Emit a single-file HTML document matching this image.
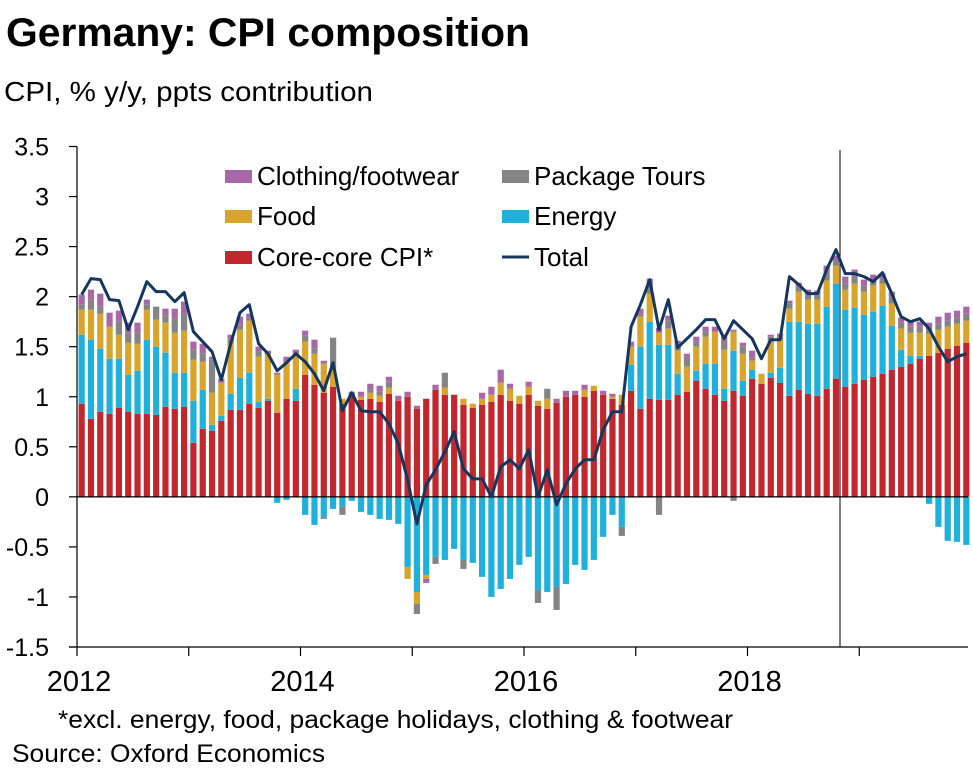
<!DOCTYPE html>
<html><head><meta charset="utf-8"><style>
html,body{margin:0;padding:0;background:#fff;}
body{width:973px;height:775px;overflow:hidden;font-family:"Liberation Sans",Arial,sans-serif;}
svg text{font-family:"Liberation Sans",Arial,sans-serif;}
</style></head><body>
<svg id="chart" width="973" height="775" xmlns="http://www.w3.org/2000/svg">
<text x="6" y="46" font-size="40" font-weight="bold" fill="#000" textLength="524" lengthAdjust="spacingAndGlyphs">Germany: CPI composition</text>
<text x="4" y="101" font-size="28" fill="#000" textLength="369" lengthAdjust="spacingAndGlyphs">CPI, % y/y, ppts contribution</text>
<g id="plot"></g>
<g id="legend"></g>
<text x="58" y="728" font-size="25" fill="#000" textLength="675" lengthAdjust="spacingAndGlyphs">*excl. energy, food, package holidays, clothing &amp; footwear</text>
<text x="12" y="762" font-size="25" fill="#000" textLength="313" lengthAdjust="spacingAndGlyphs">Source: Oxford Economics</text>
</svg>
<script>
const core=[0.93,0.78,0.85,0.83,0.89,0.85,0.83,0.83,0.82,0.90,0.88,0.90,
0.54,0.68,0.66,0.76,0.87,0.87,0.93,0.89,0.96,0.84,0.98,0.96,
1.22,1.12,1.04,1.10,0.93,1.00,0.97,0.98,0.95,1.03,0.96,1.00,
0.88,0.98,1.07,1.02,1.02,0.92,0.89,0.92,0.95,1.02,0.96,0.93,
1.02,0.91,0.88,0.94,1.00,1.02,1.00,1.06,1.02,0.98,0.92,1.06,
0.88,0.98,0.97,0.97,1.02,1.05,1.16,1.08,1.02,0.96,1.06,1.01,
1.18,1.13,1.19,1.14,1.01,1.07,1.03,1.01,1.08,1.18,1.10,1.13,
1.17,1.20,1.23,1.27,1.30,1.33,1.38,1.41,1.44,1.48,1.51,1.54];
const energy=[0.69,0.79,0.63,0.55,0.49,0.37,0.43,0.74,0.68,0.54,0.36,0.34,
0.42,0.39,0.06,0.05,0.16,0.32,0.31,0.06,0.02,-0.06,-0.03,0.12,
-0.18,-0.28,-0.2,-0.12,-0.1,-0.04,-0.15,-0.18,-0.22,-0.23,-0.27,-0.7,
-0.95,-0.78,-0.6,-0.63,-0.52,-0.63,-0.66,-0.8,-1.0,-0.92,-0.82,-0.68,
-0.6,-0.93,-0.95,-0.9,-0.87,-0.68,-0.73,-0.63,-0.4,-0.18,-0.3,0.26,
0.62,0.77,0.55,0.55,0.21,0.0,0.10,0.25,0.31,0.12,0.40,0.15,
0.09,0.0,0.05,0.15,0.74,0.68,0.70,0.72,0.82,0.95,0.77,0.76,
0.65,0.65,0.68,0.44,0.17,0.08,0.03,-0.07,-0.3,-0.44,-0.45,-0.48];
const food=[0.25,0.30,0.35,0.32,0.24,0.32,0.27,0.30,0.27,0.30,0.40,0.42,
0.41,0.28,0.32,0.33,0.50,0.48,0.52,0.45,0.45,0.38,0.36,0.35,
0.33,0.31,0.29,0.2,0.05,0.0,0.03,0.06,0.06,0.06,0.0,-0.12,
-0.12,-0.04,0,0.07,0.0,0.06,0.04,0.06,0.07,0.12,0.12,0.08,
0.08,0.05,0.1,0.0,0.0,0.0,0.07,0.05,0.0,0.02,0.1,0.18,
0.3,0.28,0.12,0.16,0.23,0.25,0.24,0.27,0.32,0.39,0.19,0.27,
0.09,0.1,0.31,0.28,0.13,0.30,0.24,0.24,0.26,0.18,0.20,0.24,
0.23,0.26,0.22,0.22,0.21,0.23,0.23,0.22,0.23,0.22,0.22,0.22];
const tours=[0.05,0.1,0.07,0.0,0.13,0.1,0.11,0.05,0.13,0.07,0.14,0.17,
0.1,0.08,0.33,0.0,0.05,0.05,0.03,0.05,0.0,0.0,0.0,0.0,
0.06,0.05,-0.02,0.29,-0.08,0.05,0.0,0.03,0.04,0.06,0.0,0.0,
-0.1,0.0,-0.07,0.15,0.0,-0.09,0.0,0.0,0.0,0.0,0.0,0.0,
0.0,-0.13,0.1,-0.23,0.0,0.0,0.0,0.0,0.0,0.0,-0.09,0.0,
0.03,0.05,-0.18,0.08,0.07,0.1,0.05,0.05,0.0,0.1,-0.04,0.07,
0.03,0.0,0.05,0.03,0.05,0.05,0.05,0.04,0.1,0.05,0.06,0.07,
0.06,0.06,0.05,0.07,0.06,0.06,0.06,0.06,0.06,0.06,0.06,0.07];
const clothing=[0.1,0.1,0.13,0.14,0.11,0.1,0.1,0.05,0.0,0.07,0.1,0.12,
0.08,0.1,0.03,0.04,0.04,0.08,0.04,0.05,0.03,0.02,0.06,0.04,
0.05,0.09,0.03,0.0,0.0,0.0,0.05,0.06,0.06,0.05,0.05,0.05,
0.03,-0.04,0.05,0.0,0.0,0.0,0.0,0.06,0.08,0.13,0.05,0.0,
0.05,0.0,0.0,0.04,0.06,0.04,0.05,0.0,0.04,0.03,0.0,0.05,
0.05,0.1,0.05,0.05,0.03,0.03,0.05,0.05,0.05,0.03,0.02,0.04,
0.07,0.0,0.02,0.03,0.03,0.04,0.05,0.05,0.05,0.05,0.07,0.07,
0.06,0.05,0.05,0.05,0.05,0.05,0.05,0.05,0.07,0.08,0.07,0.07];
const total=[2.02,2.18,2.17,1.97,1.96,1.67,1.9,2.15,2.05,2.05,1.95,2.04,
1.65,1.55,1.45,1.17,1.53,1.84,1.92,1.53,1.43,1.26,1.34,1.43,
1.35,1.23,1.06,1.34,0.86,1.04,0.86,0.85,0.85,0.73,0.53,0.17,
-0.27,0.12,0.27,0.45,0.65,0.28,0.18,0.18,0.0,0.3,0.37,0.28,
0.47,0.0,0.27,-0.08,0.13,0.28,0.37,0.37,0.67,0.85,0.85,1.7,
1.92,2.17,1.67,1.97,1.49,1.58,1.67,1.77,1.77,1.58,1.76,1.67,
1.58,1.38,1.57,1.57,2.2,2.12,2.03,2.03,2.27,2.47,2.23,2.23,
2.2,2.15,2.24,2.03,1.8,1.75,1.78,1.68,1.5,1.35,1.4,1.43];
const yTicks=[3.5,3,2.5,2,1.5,1,0.5,0,-0.5,-1,-1.5];
const yearLabels=["2012","2014","2016","2018"];
const startYear=2012, nYears=8;

const NS="http://www.w3.org/2000/svg";
const X0=77,X1=971,Y0=146.5,Y1=647;
const yMin=-1.5,yMax=3.5;
const y=v=>Y1-(v-yMin)/(yMax-yMin)*(Y1-Y0);
const nM=nYears*12, mw=(X1-X0)/nM;
const xm=i=>X0+mw*(i+0.5);
const xYear=yr=>X0+(yr-startYear)*12*mw;
function mk(tag,attrs,parent){const e=document.createElementNS(NS,tag);for(const k in attrs)e.setAttribute(k,attrs[k]);parent.appendChild(e);return e;}
const plot=document.getElementById('plot');
const series=[{d:core,c:"#c1272d",n:"core"},{d:energy,c:"#1fb1dc",n:"energy"},{d:food,c:"#d9a42b",n:"food"},{d:tours,c:"#848484",n:"tours"},{d:clothing,c:"#a867a6",n:"clothing"}];
for(let i=0;i<core.length;i++){
  let pos=0,neg=0;
  for(const s of series){
    const v=s.d[i]; if(!v) continue;
    let a,b;
    if(v>0){a=pos;b=pos+v;pos=b;}else{a=neg+v;b=neg;neg=a;}
    const r=mk('rect',{x:(xm(i)-3.1).toFixed(2),y:y(b).toFixed(2),width:6.2,height:Math.max(0,y(a)-y(b)).toFixed(2),fill:s.c},plot);
    
    
  }
}
const zl=mk('line',{x1:X0,x2:X1-3,y1:y(0),y2:y(0),stroke:"#000","stroke-width":1.2},plot);


const vl=mk('line',{x1:840,x2:840,y1:150,y2:Y1,stroke:"#000","stroke-width":1},plot);


const pts=total.map((v,i)=>xm(i).toFixed(2)+","+y(v).toFixed(2)).join(" ");
const tl=mk('polyline',{points:pts,fill:"none",stroke:"#14365f","stroke-width":3,"stroke-linejoin":"round"},plot);


const ya=mk('line',{x1:X0,x2:X0,y1:Y0,y2:Y1,stroke:"#000","stroke-width":1.2},plot);


const xa=mk('line',{x1:X0-8,x2:X1-3,y1:Y1,y2:Y1,stroke:"#000","stroke-width":1.2},plot);


for(const t of yTicks){
  const tk=mk('line',{x1:X0-8,x2:X0,y1:y(t),y2:y(t),stroke:"#000","stroke-width":1.2},plot);
  
  
  const tx=mk('text',{x:49,y:y(t)+9,"font-size":25,"text-anchor":"end",fill:"#000"},plot);
  tx.textContent=String(t);
  
  
}
for(let k=0;k<nYears;k++){
  const tk=mk('line',{x1:xYear(startYear+k),x2:xYear(startYear+k),y1:Y1,y2:Y1+9,stroke:"#000","stroke-width":1.2},plot);
  
  
}
for(const l of yearLabels){
  const tx=mk('text',{x:xYear(+l)+2,y:691,"font-size":29,"text-anchor":"middle",fill:"#000"},plot);
  tx.textContent=l;
  
  
}
const lg=document.getElementById('legend');
const legendItems=[["Clothing/footwear","#a867a6",225,176,"box"],["Package Tours","#848484",502,176,"box"],["Food","#d9a42b",225,216,"box"],["Energy","#1fb1dc",502,216,"box"],["Core-core CPI*","#c1272d",225,257,"box"],["Total","#14365f",502,257,"line"]];
for(const it of legendItems){
  const g=mk('g',{},lg);
  
  
  if(it[4]==="box") mk('rect',{x:it[2],y:it[3]-6,width:27,height:13,fill:it[1]},g);
  else mk('line',{x1:it[2],x2:it[2]+27,y1:it[3],y2:it[3],stroke:it[1],"stroke-width":3},g);
  const t=mk('text',{x:it[2]+32,y:it[3]+9,"font-size":26,fill:"#000"},g);
  t.textContent=it[0];
}
</script>
</body></html>
